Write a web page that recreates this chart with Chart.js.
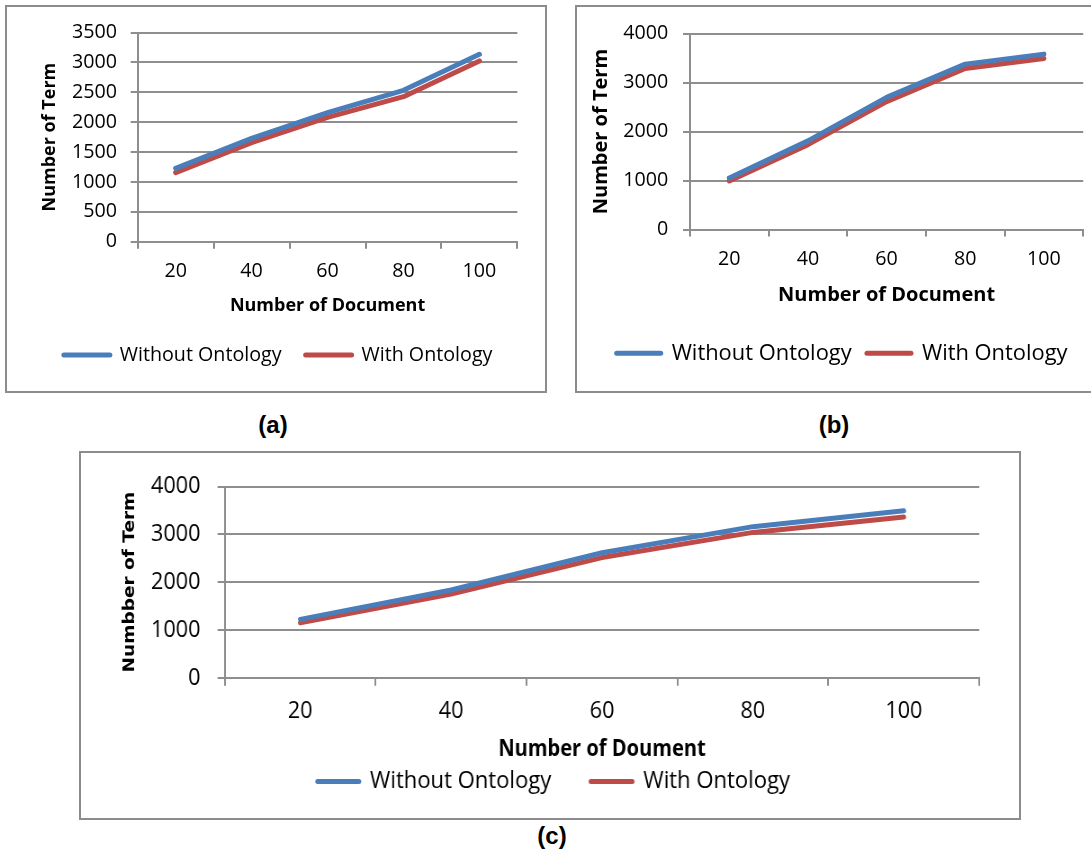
<!DOCTYPE html>
<html>
<head>
<meta charset="utf-8">
<script src="https://cdn.jsdelivr.net/npm/chart.js"></script>
<style>
  body { margin: 0; background: #fff; width: 1091px; height: 852px; overflow: hidden; position: relative; }
  .box { position: absolute; border: 2px solid #8c8c8c; box-sizing: border-box; background: #fff; }
  .box canvas { position: absolute; left: 0; top: 0; }
  .tag { position: absolute; font: bold 24px "Liberation Sans", Arial, sans-serif; line-height: 1; transform: translate(-50%, -50%); color: #000; }
</style>
</head>
<body>
<div class="box" style="left:5px;top:5px;width:542px;height:388px">
  <canvas id="chartA" width="538" height="384"></canvas>
</div>
<div class="box" style="left:575px;top:5px;width:530px;height:388px">
  <canvas id="chartB" width="516" height="384"></canvas>
</div>
<div class="box" style="left:79px;top:451px;width:942px;height:369px">
  <!-- figure (c) is squeezed horizontally in the original -->
  <div style="position:absolute;left:0;top:0;transform:scaleX(0.9);transform-origin:0 0">
    <canvas id="chartC" width="1042" height="365"></canvas>
  </div>
</div>
<div class="tag" style="left:273px;top:425px">(a)</div>
<div class="tag" style="left:834px;top:425px">(b)</div>
<div class="tag" style="left:552px;top:836px">(c)</div>

<script>
// data
const categories = ['20', '40', '60', '80', '100'];
const seriesNames = ['Without Ontology', 'With Ontology'];

const withoutA = [1228, 1730, 2160, 2533, 3136];
const withA = [1155, 1657, 2081, 2427, 3025];
const yTicksA = [0, 500, 1000, 1500, 2000, 2500, 3000, 3500];

const withoutB = [1051, 1810, 2698, 3376, 3580];
const withB = [993, 1733, 2610, 3288, 3492];
const yTicksB = [0, 1000, 2000, 3000, 4000];

const withoutC = [1220, 1835, 2613, 3160, 3493];
const withC = [1147, 1750, 2513, 3040, 3360];
const yTicksC = [0, 1000, 2000, 3000, 4000];

const blue = '#4a7ebb';
const red = '#be4b48';
const gridColor = '#8e8e8e';

Chart.defaults.font.family = "'Open Sans', sans-serif";
Chart.defaults.color = '#000';

function drawChart(id, without, withOnt, yTicks, xTitle, yTitle, s) {
    return new Chart(document.getElementById(id), {
        type: 'line',
        data: {
            labels: categories,
            datasets: [
                { label: seriesNames[0], data: without, borderColor: blue, backgroundColor: blue },
                { label: seriesNames[1], data: withOnt, borderColor: red, backgroundColor: red }
            ]
        },
        options: {
            responsive: false,
            animation: false,
            layout: { padding: s.pad },
            elements: {
                point: { radius: 0, hoverRadius: 0 },
                line: { borderWidth: 5, tension: 0, borderCapStyle: 'round', borderJoinStyle: 'round' }
            },
            plugins: {
                tooltip: { enabled: false },
                legend: {
                    position: 'bottom',
                    align: s.legendAlign,
                    labels: {
                        usePointStyle: true,
                        pointStyleWidth: s.legendLine,
                        padding: s.legendPad,
                        color: '#000',
                        font: { size: s.legendFont },
                        generateLabels: (chart) => chart.data.datasets.map((ds, i) => ({
                            text: ds.label,
                            fillStyle: ds.borderColor,
                            strokeStyle: ds.borderColor,
                            lineWidth: 5,
                            lineCap: 'round',
                            pointStyle: 'line',
                            fontColor: '#000',
                            hidden: false,
                            datasetIndex: i
                        }))
                    }
                }
            },
            scales: {
                x: {
                    offset: true,
                    grid: { offset: true, drawOnChartArea: false, tickLength: s.tick, color: gridColor, lineWidth: 2 },
                    border: { color: gridColor, width: 2 },
                    ticks: { font: { size: s.tickFont }, padding: s.xTickPad, color: '#000', maxRotation: 0, autoSkip: false },
                    title: {
                        display: true, text: xTitle, color: '#000',
                        font: { size: s.xTitleFont, weight: 'bold' },
                        padding: s.xTitlePad
                    }
                },
                y: {
                    min: yTicks[0],
                    max: yTicks[yTicks.length - 1],
                    afterFit: (scale) => { scale.width = s.yWidth; },
                    grid: { color: gridColor, lineWidth: 2, tickLength: s.tick },
                    border: { color: gridColor, width: 2 },
                    ticks: {
                        stepSize: yTicks[1] - yTicks[0],
                        autoSkip: false,
                        font: { size: s.tickFont },
                        padding: s.yTickPad,
                        color: '#000',
                        callback: (v) => String(v)
                    },
                    title: {
                        display: true, text: yTitle, color: '#000',
                        font: { size: s.yTitleFont, weight: 'bold', family: s.yTitleFamily },
                        padding: { top: s.yTitlePad, bottom: 0 }
                    }
                }
            }
        }
    });
}

drawChart('chartA', withoutA, withA, yTicksA, 'Number of Document', 'Number of Term', {
    pad: { left: 32.9, right: 27.6, top: 25.3, bottom: 16.15 },
    yWidth: 97.8, tick: 7, tickFont: 19.7, yTickPad: 13.7, xTickPad: 11.2,
    yTitleFamily: "'Open Sans', sans-serif", yTitleFont: 18, yTitlePad: -0.7,
    xTitleFont: 18, xTitlePad: { top: 0, bottom: 4.8 },
    legendFont: 19.7, legendPad: 24, legendLine: 46, legendAlign: 'start'
});

drawChart('chartB', withoutB, withB, yTicksB, 'Number of Document', 'Number of Term', {
    pad: { left: 24.4, right: 9.8, top: 25.3, bottom: 16.75 },
    yWidth: 88.6, tick: 7, tickFont: 19.7, yTickPad: 14.7, xTickPad: 11.4,
    yTitleFamily: "'Open Sans', sans-serif", yTitleFont: 20, yTitlePad: -11.7,
    xTitleFont: 20, xTitlePad: { top: 0, bottom: 20 },
    legendFont: 21.9, legendPad: 15.3, legendLine: 44, legendAlign: 'start'
});

drawChart('chartC', withoutC, withC, yTicksC, 'Number of Doument', 'Numbber of Term', {
    pad: { left: 52.5, right: 43.9, top: 24.7, bottom: 14.25 },
    yWidth: 107.2, tick: 8, tickFont: 24, yTickPad: 19.1, xTickPad: 10.9,
    yTitleFamily: "'DejaVu Sans', sans-serif", yTitleFont: 18.5, yTitlePad: -9.7,
    xTitleFont: 22.3, xTitlePad: { top: 0, bottom: -37.8 },
    legendFont: 24.5, legendPad: 44, legendLine: 46, legendAlign: 'center'
});
</script>
</body>
</html>
